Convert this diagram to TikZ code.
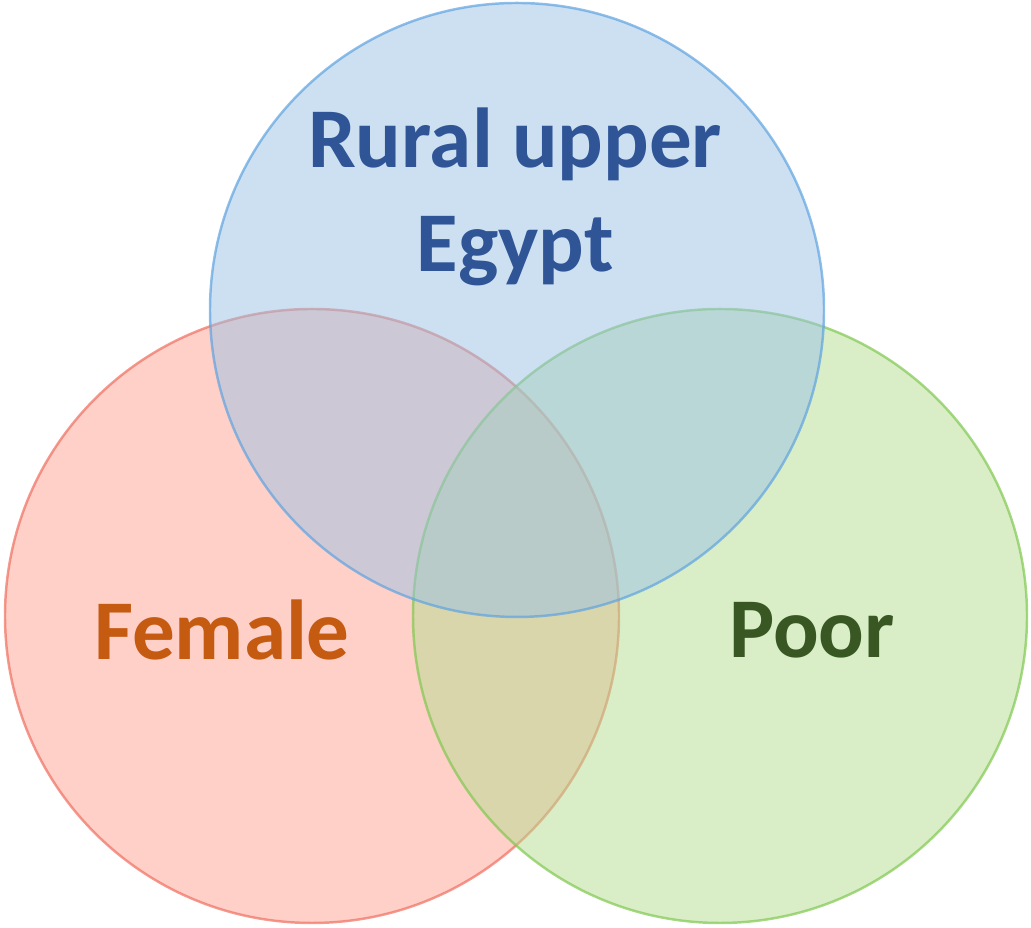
\documentclass[tikz,border=0pt]{standalone}
\usepackage{fontspec}
\setmainfont{Carlito}
\definecolor{ruralfill}{HTML}{99C1E5}
\definecolor{ruraldraw}{HTML}{5FA3E0}
\definecolor{femalefill}{HTML}{FFA191}
\definecolor{femaledraw}{HTML}{F06F60}
\definecolor{poorfill}{HTML}{B3DD8F}
\definecolor{poordraw}{HTML}{80C850}
\definecolor{ruraltext}{HTML}{2F5597}
\definecolor{femaletext}{HTML}{C55A11}
\definecolor{poortext}{HTML}{385723}
\tikzset{
	set/.style={circle,minimum size=6.14cm,inner sep=0pt,line width=0.7pt,fill opacity=0.5,draw opacity=0.7},
	setlabel/.style={font=\fontsize{24.2}{29.8}\selectfont\bfseries,align=center}
}
\begin{document}
\begin{tikzpicture}
	\useasboundingbox (0,0) rectangle (10.31,9.28);
	\node[set,fill=femalefill,draw=femaledraw] (female) at (3.12,3.12) {};
	\node[set,fill=poorfill,draw=poordraw] (poor) at (7.20,3.12) {};
	\node[set,fill=ruralfill,draw=ruraldraw] (rural) at (5.17,6.18) {};
	\node[setlabel,text=ruraltext] (ruraltxt) at (5.15,7.31) {Rural upper\\Egypt};
	\node[setlabel,text=femaletext] (femaletxt) at (2.22,2.98) {Female};
	\node[setlabel,text=poortext] (poortxt) at (8.12,2.98) {Poor};
\end{tikzpicture}
\end{document}
